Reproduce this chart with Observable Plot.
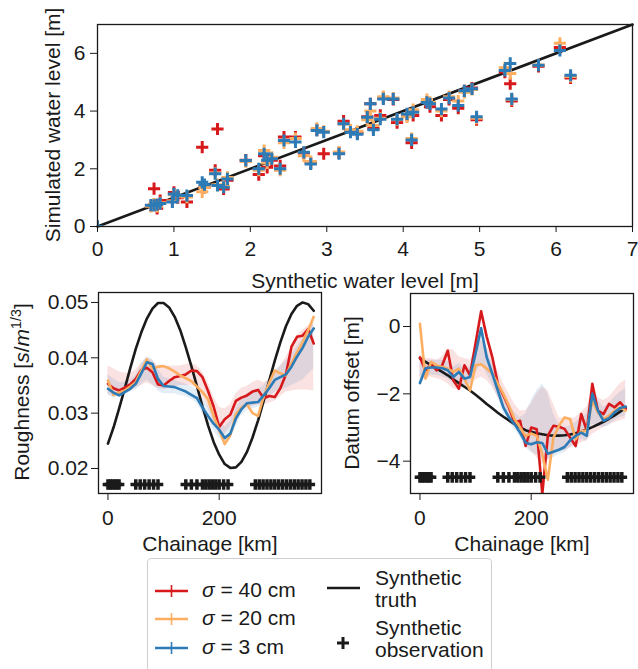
<!DOCTYPE html>
<html><head><meta charset="utf-8">
<script src="https://cdn.jsdelivr.net/npm/d3@7"></script>
<script src="https://cdn.jsdelivr.net/npm/@observablehq/plot@0.6"></script>
<style>
html,body{margin:0;padding:0;background:#fff;}
#wrap{position:relative;width:638px;height:669px;overflow:hidden;font-family:"Liberation Sans",Arial,sans-serif;color:#1a1a1a;}
.pnl{position:absolute;}
.lbl{position:absolute;white-space:nowrap;font-size:21px;line-height:1;transform:translate(-50%,-50%);}
.rot{transform:translate(-50%,-50%) rotate(-90deg);}
.lbl sup{font-size:0.68em;vertical-align:0.55em;line-height:0;}
#legend{position:absolute;left:147px;top:558px;width:345px;height:130px;border:1px solid #cfcfcf;border-radius:4px;background:#fff;box-sizing:border-box;}
.lt{position:absolute;white-space:nowrap;font-size:21px;line-height:22px;transform:translateY(-50%);}
</style>
</head><body>
<div id="wrap"></div>
<script>
// ---------- data: top scatter ----------
const synthWL = [0.00,0.70,0.74,0.78,0.82,0.98,1.00,1.05,1.17,1.37,1.40,1.54,1.57,1.65,1.70,1.94,2.11,2.18,2.22,2.28,2.39,2.44,2.59,2.70,2.79,2.87,2.96,3.16,3.22,3.31,3.40,3.53,3.57,3.61,3.70,3.74,3.87,3.92,4.05,4.11,4.13,4.31,4.35,4.50,4.60,4.72,4.80,4.90,4.96,5.33,5.40,5.42,5.77,6.05,6.19];
const sim40 = [0.00,0.72,1.31,0.63,0.90,0.90,1.18,1.00,0.85,2.75,1.35,1.95,3.38,1.30,1.60,2.30,1.80,2.45,2.05,2.30,2.10,3.10,3.10,2.55,2.20,3.35,2.52,2.55,3.65,3.30,3.25,3.80,4.25,3.40,3.85,4.45,4.40,3.60,3.85,2.90,3.85,4.30,4.15,3.85,4.40,4.10,4.70,4.80,3.70,5.35,4.95,4.35,5.55,6.20,5.15];
const sim20 = [0.00,0.70,0.78,0.70,0.82,0.88,1.10,1.05,1.02,1.20,1.35,1.85,1.45,1.40,1.70,2.25,1.95,2.63,2.20,2.40,1.95,2.90,3.05,2.45,2.25,3.40,3.30,2.58,3.55,3.35,3.30,3.70,4.00,3.50,3.75,4.50,4.45,3.70,3.80,3.05,4.05,4.40,4.30,4.00,4.50,4.35,4.65,4.75,3.75,5.50,5.30,4.40,5.60,6.35,5.20];
const sim3  = [0.00,0.74,0.73,0.76,0.80,0.85,1.13,1.08,1.07,1.53,1.45,1.83,1.42,1.36,1.65,2.29,2.00,2.52,2.30,2.35,2.00,2.98,2.93,2.57,2.17,3.33,3.27,2.52,3.56,3.27,3.20,3.79,4.25,3.35,3.72,4.42,4.42,3.72,3.90,3.00,3.96,4.30,4.25,4.07,4.45,4.19,4.70,4.77,3.80,5.41,5.65,4.42,5.59,6.10,5.24];
const identityLine = [0, 7];
const topTicksX = [0,1,2,3,4,5,6,7];
const topTicksY = [0,2,4,6];

// ---------- data: profiles ----------
const chainage = [0,10,20,30,40,50,60,70,80,90,100,110,120,130,140,150,160,170,180,190,200,210,220,230,240,250,260,270,280,290,300,310,320,330,340,350,360,370];
const roughTruth = [0.0245,0.0274,0.0308,0.0344,0.0381,0.0416,0.0446,0.0471,0.0489,0.0499,0.0499,0.0491,0.0474,0.0450,0.0419,0.0385,0.0349,0.0312,0.0278,0.0248,0.0225,0.0208,0.0201,0.0202,0.0212,0.0230,0.0256,0.0287,0.0322,0.0359,0.0395,0.0428,0.0457,0.0479,0.0494,0.0500,0.0497,0.0485];
const rough40 = [0.0353,0.0345,0.0341,0.0346,0.0352,0.0362,0.0378,0.0382,0.0374,0.0352,0.0350,0.0358,0.0365,0.0367,0.0370,0.0377,0.0376,0.0365,0.0340,0.0312,0.0275,0.0289,0.0297,0.0322,0.0328,0.0332,0.0339,0.0342,0.0327,0.0331,0.0329,0.0345,0.0370,0.0420,0.0438,0.0440,0.0452,0.0426];
const rough20 = [0.0359,0.0333,0.0337,0.0341,0.0348,0.0356,0.0377,0.0397,0.0380,0.0384,0.0385,0.0381,0.0375,0.0368,0.0363,0.0358,0.0348,0.0338,0.0325,0.0295,0.0270,0.0244,0.0260,0.0298,0.0310,0.0316,0.0300,0.0295,0.0330,0.0355,0.0377,0.0372,0.0368,0.0390,0.0410,0.0428,0.0450,0.0474];
const rough3  = [0.0344,0.0337,0.0332,0.0338,0.0344,0.0353,0.0372,0.0392,0.0389,0.0362,0.0349,0.0348,0.0347,0.0343,0.0339,0.0333,0.0327,0.0310,0.0295,0.0281,0.0270,0.0255,0.0263,0.0290,0.0307,0.0318,0.0319,0.0320,0.0332,0.0345,0.0360,0.0365,0.0370,0.0384,0.0402,0.0418,0.0438,0.0453];
const roughLo40 = [0.0335,0.0330,0.0335,0.0338,0.0340,0.0345,0.0350,0.0355,0.0350,0.0345,0.0342,0.0345,0.0348,0.0350,0.0350,0.0350,0.0345,0.0330,0.0310,0.0285,0.0262,0.0262,0.0275,0.0295,0.0305,0.0310,0.0312,0.0315,0.0315,0.0318,0.0322,0.0330,0.0338,0.0340,0.0342,0.0342,0.0342,0.0340];
const roughHi40 = [0.0385,0.0380,0.0375,0.0372,0.0372,0.0378,0.0390,0.0400,0.0395,0.0385,0.0382,0.0385,0.0385,0.0385,0.0388,0.0390,0.0385,0.0375,0.0355,0.0330,0.0310,0.0308,0.0315,0.0335,0.0345,0.0348,0.0355,0.0360,0.0355,0.0360,0.0370,0.0385,0.0400,0.0420,0.0440,0.0450,0.0458,0.0462];
const roughLo3 = [0.0332,0.0328,0.0330,0.0333,0.0338,0.0342,0.0352,0.0360,0.0352,0.0340,0.0335,0.0335,0.0335,0.0332,0.0330,0.0325,0.0318,0.0300,0.0285,0.0268,0.0255,0.0245,0.0252,0.0275,0.0295,0.0305,0.0308,0.0310,0.0318,0.0328,0.0338,0.0342,0.0345,0.0350,0.0355,0.0360,0.0370,0.0380];
const roughHi3 = [0.0370,0.0362,0.0355,0.0356,0.0360,0.0368,0.0388,0.0402,0.0398,0.0380,0.0365,0.0362,0.0360,0.0356,0.0352,0.0348,0.0342,0.0328,0.0312,0.0298,0.0288,0.0275,0.0285,0.0308,0.0325,0.0335,0.0340,0.0342,0.0350,0.0362,0.0378,0.0385,0.0395,0.0405,0.0420,0.0435,0.0452,0.0465];

const datumTruth = [-0.95,-1.05,-1.15,-1.25,-1.35,-1.45,-1.57,-1.68,-1.79,-1.90,-2.03,-2.16,-2.30,-2.43,-2.56,-2.68,-2.79,-2.90,-3.00,-3.08,-3.13,-3.17,-3.20,-3.23,-3.24,-3.24,-3.23,-3.21,-3.17,-3.12,-3.06,-2.99,-2.91,-2.83,-2.74,-2.64,-2.53,-2.42];
const datum40 = [-0.92,-1.30,-1.12,-1.30,-1.15,-0.72,-1.60,-1.85,-1.15,-1.45,-0.50,0.45,-0.30,-0.90,-1.70,-2.05,-2.40,-2.85,-2.80,-3.55,-3.00,-3.05,-4.97,-3.24,-2.95,-2.98,-3.04,-3.30,-3.55,-2.60,-3.09,-1.70,-2.50,-2.60,-2.30,-2.40,-2.25,-2.45];
const datum20 = [0.08,-1.55,-1.05,-1.15,-1.20,-1.25,-1.35,-1.25,-1.55,-1.90,-1.15,-1.12,-1.25,-1.40,-1.70,-2.00,-2.35,-2.75,-3.00,-3.25,-3.18,-3.25,-3.80,-4.55,-3.30,-2.95,-2.70,-2.75,-3.35,-3.10,-3.10,-2.20,-2.55,-2.75,-2.65,-2.50,-2.40,-2.50];
const datum3  = [-1.68,-1.24,-1.22,-1.22,-1.24,-1.30,-1.50,-1.35,-1.55,-1.50,-0.80,-0.05,-0.91,-1.40,-1.90,-2.40,-2.70,-2.90,-3.15,-3.45,-3.50,-3.44,-3.46,-3.78,-3.72,-3.66,-3.58,-3.38,-3.25,-3.15,-3.25,-2.00,-2.50,-2.80,-2.72,-2.55,-2.42,-2.38];
const datumLo40 = [-1.50,-1.55,-1.50,-1.55,-1.60,-1.70,-1.85,-1.90,-1.80,-1.75,-1.60,-1.50,-1.60,-1.80,-2.10,-2.40,-2.65,-2.95,-3.20,-3.50,-3.70,-3.90,-4.10,-4.00,-3.80,-3.70,-3.70,-3.60,-3.55,-3.45,-3.40,-3.20,-3.10,-3.00,-2.90,-2.85,-2.80,-2.75];
const datumHi40 = [-0.85,-0.95,-0.95,-1.00,-0.90,-0.65,-0.70,-0.90,-0.95,-1.00,-0.70,-0.40,-0.60,-0.90,-1.30,-1.70,-2.00,-2.30,-2.50,-2.50,-2.30,-2.00,-1.80,-1.90,-2.30,-2.70,-2.75,-2.75,-2.70,-2.55,-2.40,-1.90,-2.10,-2.20,-2.10,-1.90,-1.70,-1.60];
const datumLo3 = [-1.70,-1.50,-1.45,-1.45,-1.50,-1.55,-1.70,-1.65,-1.75,-1.70,-1.40,-1.10,-1.40,-1.70,-2.10,-2.60,-2.85,-3.05,-3.30,-3.60,-3.75,-3.80,-3.85,-3.95,-3.90,-3.80,-3.75,-3.60,-3.45,-3.35,-3.40,-2.90,-2.95,-3.00,-2.95,-2.80,-2.70,-2.65];
const datumHi3 = [-1.10,-1.00,-1.00,-1.00,-1.00,-1.05,-1.20,-1.10,-1.25,-1.20,-0.60,-0.10,-0.70,-1.10,-1.50,-2.00,-2.30,-2.55,-2.70,-2.60,-2.20,-1.90,-1.70,-2.00,-2.60,-2.90,-3.00,-2.95,-2.85,-2.70,-2.60,-1.90,-2.20,-2.40,-2.30,-2.10,-1.95,-1.85];

const obsChainage = [0,4,8,12,16,20,50,58,66,74,82,90,140,150,160,170,176,182,188,194,200,208,216,265,272,279,286,293,300,307,314,321,328,335,342,349,356,363];
const obsLevelRough = 0.0171;
const obsLevelDatum = -4.48;
const roughTicksY = [0.02,0.03,0.04,0.05];
const datumTicksY = [0,-2,-4];
const chainTicks = [0,200];

const seriesNames = ["σ = 40 cm","σ = 20 cm","σ = 3 cm"];
const RED = "#d7191c", ORANGE = "#fdae61", BLUE = "#2c7bb6", INK = "#1a1a1a";

// ---------- helpers ----------
const wrap = document.getElementById("wrap");
const baseStyle = {fontSize:"21px", fontFamily:"Liberation Sans, Arial, sans-serif", color:INK, background:"transparent", overflow:"visible"};
function place(node, left, top){ node.classList.add("pnl"); node.style.left = left+"px"; node.style.top = top+"px"; wrap.appendChild(node); }
function label(html, x, y, rot){ const d = document.createElement("div"); d.className = "lbl" + (rot ? " rot" : ""); d.innerHTML = html; d.style.left = x+"px"; d.style.top = y+"px"; wrap.appendChild(d); }
const minus = d => d < 0 ? "\u2212" + Math.abs(d) : String(d);
const plain = d => String(d);

// ---------- top scatter ----------
const scatterRows = synthWL.flatMap((x, i) => [
  {x, y: sim40[i], s: seriesNames[0]},
  {x, y: sim20[i], s: seriesNames[1]},
  {x, y: sim3[i],  s: seriesNames[2]}
]);
const colorOf = {[seriesNames[0]]: RED, [seriesNames[1]]: ORANGE, [seriesNames[2]]: BLUE};

const topPlot = Plot.plot({
  width: 638, height: 290,
  marginLeft: 97, marginRight: 6, marginTop: 24, marginBottom: 64,
  x: {domain: [0, 7]}, y: {domain: [0, 7]},
  style: baseStyle,
  marks: [
    Plot.line(identityLine, {x: d => d, y: d => d, stroke: INK, strokeWidth: 2.6}),
    ...seriesNames.map(n => Plot.dot(scatterRows.filter(r => r.s === n), {x: "x", y: "y", symbol: "plus", r: 4, stroke: colorOf[n], strokeWidth: 3, clip: true})),
    Plot.axisX({ticks: topTicksX, tickFormat: plain, tickSize: 6, tickPadding: 9, label: null, stroke: INK}),
    Plot.axisY({ticks: topTicksY, tickFormat: plain, tickSize: 7, tickPadding: 5, label: null, stroke: INK}),
    Plot.frame({stroke: INK, strokeWidth: 1.3})
  ]
});
place(topPlot, 0, 0);
label("Simulated water level [m]", 52, 125, true);
label("Synthetic water level [m]", 365, 280, false);

// ---------- profile panels ----------
function profile(opts){
  const {truth, s40, s20, s3, lo40, hi40, lo3, hi3, ydomain, yticks, yfmt, obsLevel, mLeft, mRight, mTop, w} = opts;
  const idx = chainage.map((c, i) => i);
  const band = (lo, hi, col) => Plot.areaY(idx, {x: i => chainage[i], y1: i => lo[i], y2: i => hi[i], fill: col, fillOpacity: 0.13, clip: true});
  const ln = (vals, col, sw) => Plot.line(idx, {x: i => chainage[i], y: i => vals[i], stroke: col, strokeWidth: sw, clip: true});
  return Plot.plot({
    width: w, height: 260,
    marginLeft: mLeft, marginRight: mRight, marginTop: mTop, marginBottom: 47,
    x: {domain: [-17, 384]}, y: {domain: ydomain},
    style: baseStyle,
    marks: [
      band(lo40, hi40, RED),
      band(lo3, hi3, BLUE),
      ln(truth, INK, 2.6),
      ln(s40, RED, 2.6),
      ln(s20, ORANGE, 2.6),
      ln(s3, BLUE, 2.6),
      Plot.dot(obsChainage, {x: d => d, y: () => obsLevel, symbol: "plus", r: 3.5, stroke: INK, strokeWidth: 3.5}),
      Plot.axisX({ticks: chainTicks, tickFormat: plain, tickSize: 7, tickPadding: 10, label: null, stroke: INK}),
      Plot.axisY({ticks: yticks, tickFormat: yfmt, tickSize: 7, tickPadding: 3, label: null, stroke: INK}),
      Plot.frame({stroke: INK, strokeWidth: 1.3})
    ]
  });
}

const roughPlot = profile({truth: roughTruth, s40: rough40, s20: rough20, s3: rough3, lo40: roughLo40, hi40: roughHi40, lo3: roughLo3, hi3: roughHi3,
  ydomain: [0.01548, 0.0518], yticks: roughTicksY, yfmt: d => d.toFixed(2), obsLevel: obsLevelRough, mLeft: 98, mRight: 9, mTop: 12, w: 330});
place(roughPlot, 0, 280);
label('Roughness [<i>s</i>/<i>m</i><sup>1/3</sup>]', 21, 392, true);
label("Chainage [km]", 210, 543, false);

const datumPlot = profile({truth: datumTruth, s40: datum40, s20: datum20, s3: datum3, lo40: datumLo40, hi40: datumHi40, lo3: datumLo3, hi3: datumHi3,
  ydomain: [-4.96, 0.98], yticks: datumTicksY, yfmt: minus, obsLevel: obsLevelDatum, mLeft: 90, mRight: 5, mTop: 13, w: 318});
place(datumPlot, 320, 280);
label("Datum offset [m]", 351, 393, true);
label("Chainage [km]", 522, 543, false);

// ---------- legend ----------
const leg = document.createElement("div"); leg.id = "legend"; wrap.appendChild(leg);
const L0 = 147, T0 = 558;
function sample(x1, x2, y, col, withPlus){
  const svg = d3.create("svg").attr("width", 40).attr("height", 20)
    .style("position", "absolute").style("left", (x1 - L0 - 1) + "px").style("top", (y - T0 - 11) + "px");
  svg.append("line").attr("x1", 0).attr("x2", x2 - x1).attr("y1", 10).attr("y2", 10).attr("stroke", col).attr("stroke-width", 2.6);
  if (withPlus) svg.append("line").attr("x1", (x2 - x1)/2).attr("x2", (x2 - x1)/2).attr("y1", 4).attr("y2", 16).attr("stroke", col).attr("stroke-width", 1.6);
  leg.appendChild(svg.node());
}
function ltext(html, x, y){ const d = document.createElement("div"); d.className = "lt"; d.innerHTML = html; d.style.left = (x - L0 - 1) + "px"; d.style.top = (y - T0 - 1) + "px"; leg.appendChild(d); }
const legendColors = [RED, ORANGE, BLUE];
const legendRowsY = [590, 618, 647];
seriesNames.forEach((n, i) => {
  sample(155, 188, legendRowsY[i] + 1, legendColors[i], true);
  ltext(n.replace("σ", "<i>σ</i>"), 202, legendRowsY[i]);
});
sample(327, 360, 588, INK, false);
ltext("Synthetic<br>truth", 375, 588.5);
{
  const svg = d3.create("svg").attr("width", 20).attr("height", 20)
    .style("position", "absolute").style("left", (343 - 10 - L0 - 1) + "px").style("top", (643 - 10 - T0 - 1) + "px");
  svg.append("path").attr("d", "M4,10H16M10,4V16").attr("stroke", INK).attr("stroke-width", 3);
  leg.appendChild(svg.node());
}
ltext("Synthetic<br>observation", 375, 638.5);
</script>
</body></html>
